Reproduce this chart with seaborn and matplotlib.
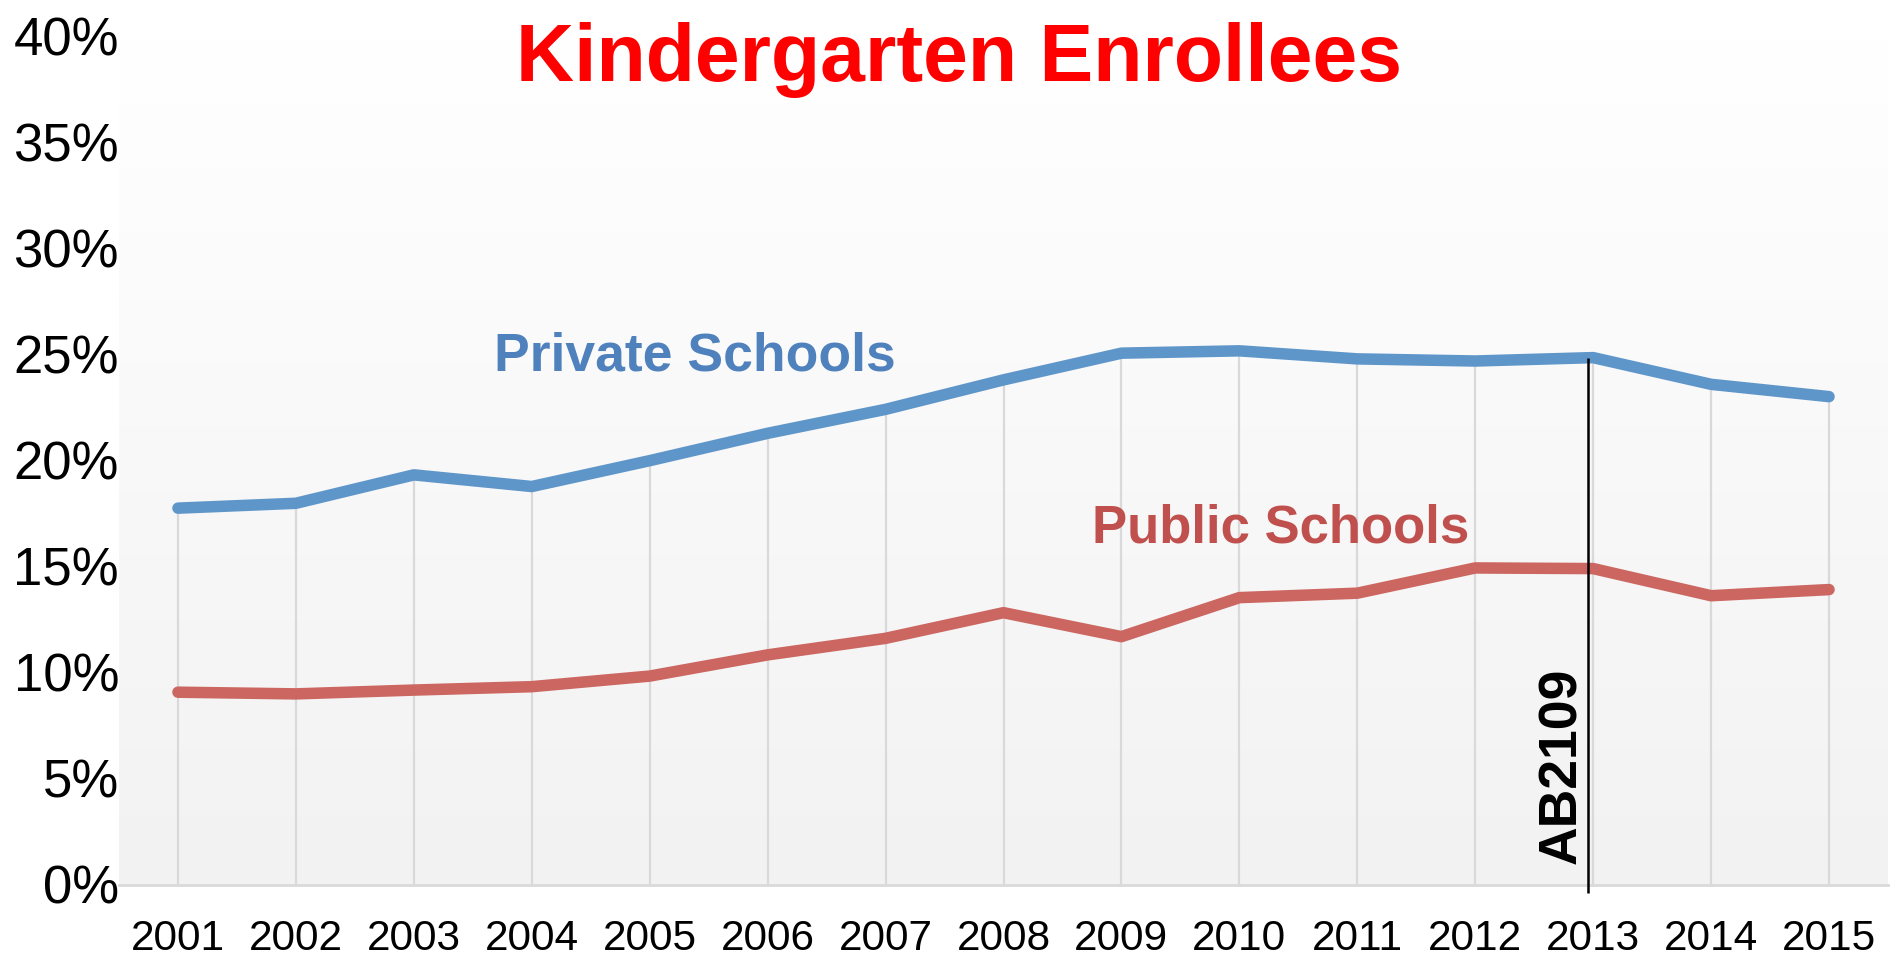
import numpy as np
import pandas as pd
import matplotlib
matplotlib.use("Agg")
import matplotlib.pyplot as plt
from matplotlib.colors import LinearSegmentedColormap
import seaborn as sns

# Share of kindergarten enrollees, by school type (percent)
years = [2001, 2002, 2003, 2004, 2005, 2006, 2007, 2008,
         2009, 2010, 2011, 2012, 2013, 2014, 2015]
private_pct = [17.75, 17.98, 19.32, 18.77, 19.99, 21.28, 22.41, 23.80,
               25.06, 25.17, 24.79, 24.69, 24.85, 23.59, 23.01]
public_pct = [9.07, 8.99, 9.17, 9.33, 9.83, 10.83, 11.61, 12.82,
              11.69, 13.53, 13.74, 14.93, 14.90, 13.62, 13.91]
y_ticks = [0, 5, 10, 15, 20, 25, 30, 35, 40]
y_tick_labels = [f"{v}%" for v in y_ticks]
title_text = "Kindergarten Enrollees"
private_label = "Private Schools"
public_label = "Public Schools"
law_year = 2013
law_label = "AB2109"

sns.set_style("white")
plt.rcParams["font.family"] = ["Liberation Sans", "DejaVu Sans"]

df = pd.DataFrame({"year": years, "private": private_pct, "public": public_pct})

W, H = 1900, 957
fig = plt.figure(figsize=(W / 100, H / 100), dpi=100)
fig.patch.set_facecolor("white")
ax = fig.add_axes([119 / W, 1 - 884.5 / H, (1888 - 119) / W, (884.5 - 36.4) / H])

x0, x1 = years[0] - 0.5, years[-1] + 0.5

# plot-area fill: white at the top fading to light grey at the bottom
grad = np.linspace(1, 0, 256).reshape(-1, 1)
cmap = LinearSegmentedColormap.from_list("fill", ["#ffffff", "#f2f2f2"])
ax.imshow(grad, extent=[x0, x1, 0, 40], aspect="auto", cmap=cmap,
          origin="lower", zorder=0, interpolation="bicubic")
ax.set_xlim(x0, x1)
ax.set_ylim(0, 40)

# drop lines from the upper series to the axis
ax.vlines(df["year"], 0, df["private"], color="#d9d9d9", lw=1.6, zorder=1)

blue_line = "#5f96c9"
red_line = "#cc6660"
sns.lineplot(data=df, x="year", y="private", ax=ax, color=blue_line,
             lw=8.3, solid_capstyle="round", zorder=3)
sns.lineplot(data=df, x="year", y="public", ax=ax, color=red_line,
             lw=8.3, solid_capstyle="round", zorder=3)

# legislation marker
ax.vlines(law_year - 0.04, -0.42, df.loc[df["year"] == law_year, "private"].iloc[0],
          color="black", lw=1.8, zorder=4, clip_on=False)
ax.text(law_year - 0.05, 0.95, law_label, rotation=90, ha="right", va="bottom",
        fontsize=38.5, fontweight="bold", color="black", zorder=5)

# series labels
ax.text(2003.68, 24.25, private_label, fontsize=38.5, fontweight="bold",
        color="#4f81bd", ha="left", va="baseline", zorder=5)
ax.text(2008.75, 16.12, public_label, fontsize=38, fontweight="bold",
        color="#c0504d", ha="left", va="baseline", zorder=5)

# title
fig.text(0.5045, 1 - 81 / H, title_text, fontsize=58, fontweight="bold",
         color="#ff0000", ha="center", va="baseline")

ax.set_xticks(years)
ax.set_xticklabels([str(y) for y in years], fontsize=30.5, color="black")
ax.set_yticks(y_ticks)
ax.set_yticklabels(y_tick_labels, fontsize=38, color="black")
ax.tick_params(axis="x", length=0, pad=25)
ax.tick_params(axis="y", length=0, pad=0)
ax.set_xlabel("")
ax.set_ylabel("")
ax.grid(False)

for side in ["top", "right", "left"]:
    ax.spines[side].set_visible(False)
ax.spines["bottom"].set_color("#d9d9d9")
ax.spines["bottom"].set_linewidth(2)
ax.spines["bottom"].set_zorder(2)

fig.savefig("out.png", dpi=100, facecolor="white")
